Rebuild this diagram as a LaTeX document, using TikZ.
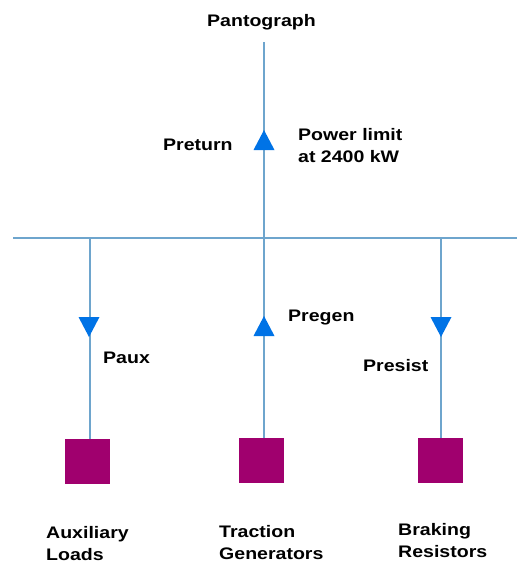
\documentclass[tikz,border=0pt]{standalone}
\usepackage{fontspec}
\setmainfont{Liberation Sans}[FakeStretch=1.17]
\definecolor{linec}{RGB}{110,165,205}
\definecolor{tric}{RGB}{0,115,230}
\definecolor{boxc}{RGB}{160,0,110}
\begin{document}
\begin{tikzpicture}[x=1pt,y=-1pt,
  wire/.style={draw=linec,line width=1.1pt},
  load/.style={fill=boxc,draw=none,minimum width=45pt,minimum height=45pt,inner sep=0pt},
  lbl/.style={anchor=base west,inner sep=0pt,font=\fontsize{16.7}{22}\selectfont\bfseries,align=left},
  tri/.style={fill=tric}]
\useasboundingbox (0,0) rectangle (517,563);
\fill[white] (0,0) rectangle (517,563);
% coordinates
\coordinate (top) at (264,42);
\coordinate (busL) at (13,238);
\coordinate (busR) at (517,238);
\coordinate (jA) at (90,238);
\coordinate (jT) at (264,238);
\coordinate (jB) at (441,238);
% loads
\node[load] (aux) at (87,461.5) {};
\node[load] (trac) at (261.5,460.5) {};
\node[load] (brake) at (440.5,460.5) {};
% wires
\draw[wire] (busL) -- (busR);
\draw[wire] (top) -- (jT);
\draw[wire] (jT) -- (jT |- trac.north);
\draw[wire] (jA) -- (jA |- aux.north);
\draw[wire] (jB) -- (jB |- brake.north);
% triangles
\fill[tri] (264,140) ++(-10.5,10) -- ++(21,0) -- ++(-10.5,-20) -- cycle;
\fill[tri] (264,326) ++(-10.5,10) -- ++(21,0) -- ++(-10.5,-20) -- cycle;
\fill[tri] (89,327) ++(-10.5,-10) -- ++(21,0) -- ++(-10.5,20) -- cycle;
\fill[tri] (441,327) ++(-10.5,-10) -- ++(21,0) -- ++(-10.5,20) -- cycle;
% labels (base = baseline of last line)
\node[lbl] (panto) at (207,26) {Pantograph};
\node[lbl] (preturn) at (163,150) {Preturn};
\node[lbl] (plim) at (298,162) {Power limit\\at 2400 kW};
\node[lbl] (paux) at (103,363) {Paux};
\node[lbl] (pregen) at (288,321) {Pregen};
\node[lbl] (presist) at (363,371) {Presist};
\node[lbl] (auxl) at (46,560) {Auxiliary\\Loads};
\node[lbl] (tracl) at (219,559) {Traction\\Generators};
\node[lbl] (brakel) at (398,557) {Braking\\Resistors};
\end{tikzpicture}
\end{document}
